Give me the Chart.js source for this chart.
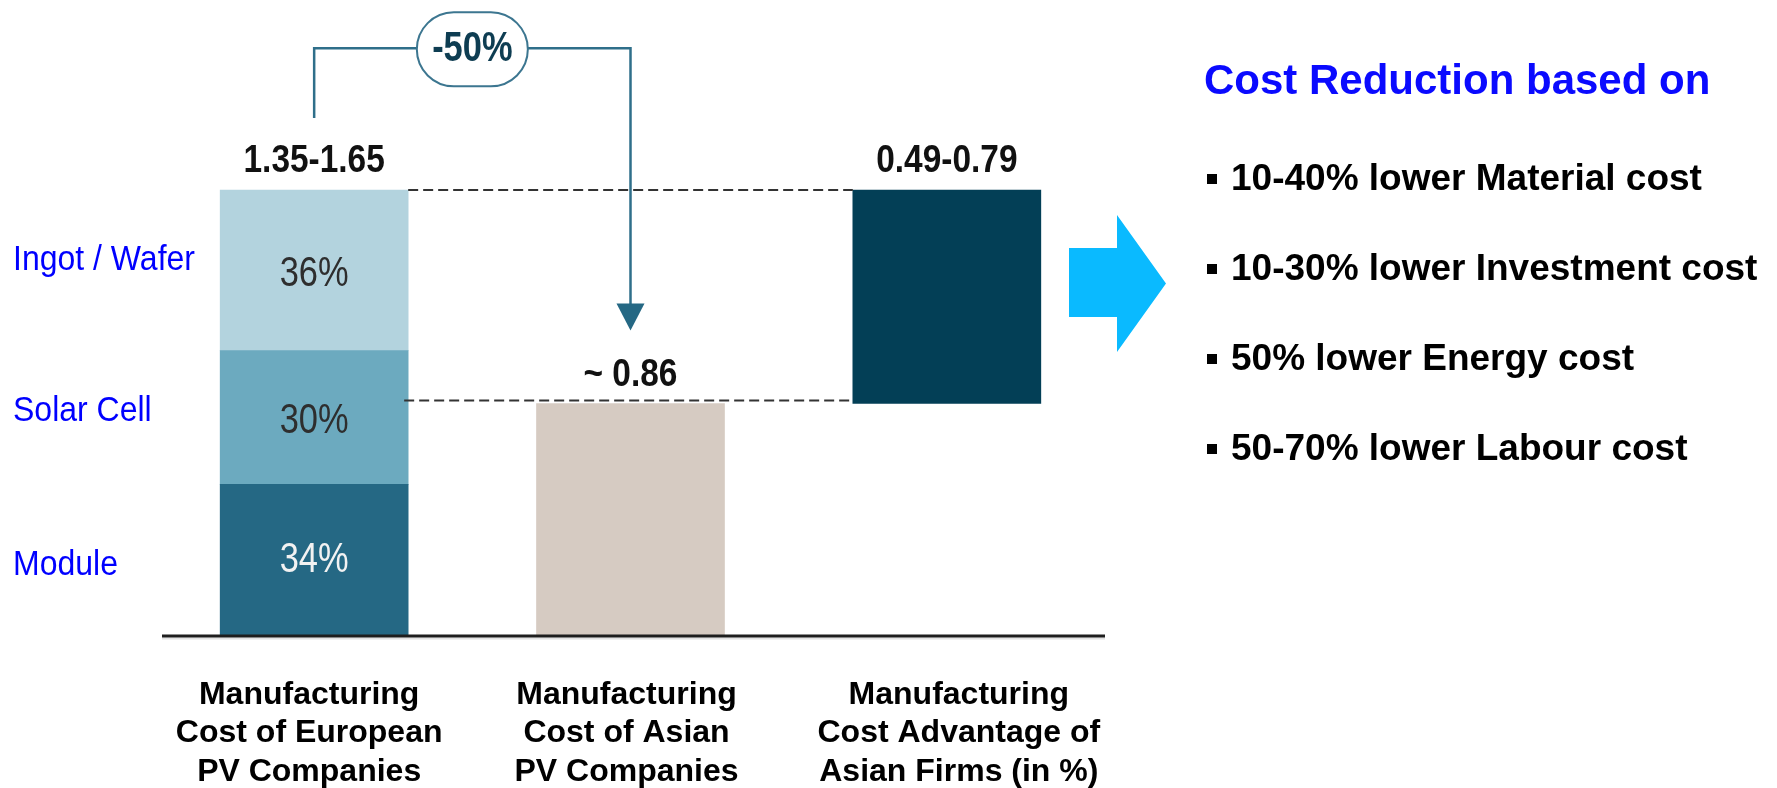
<!DOCTYPE html>
<html>
<head>
<meta charset="utf-8">
<script src="https://cdn.jsdelivr.net/npm/chart.js@4.4.1/dist/chart.umd.min.js"></script>
<style>
  html, body { margin: 0; padding: 0; background: #ffffff; }
  #wrap { position: relative; width: 1777px; height: 788px; }
  canvas { display: block; }
</style>
</head>
<body>
<div id="wrap"><canvas id="c" width="1777" height="788"></canvas></div>
<script>
// Categories (multi-line labels under each bar)
const categories = [
  ["Manufacturing", "Cost of European", "PV Companies"],
  ["Manufacturing", "Cost of Asian", "PV Companies"],
  ["Manufacturing", "Cost Advantage of", "Asian Firms (in %)"]
];

// European cost split by value-chain step (bottom to top)
const europeTotal = 1.65;
const europeSteps = ["Module", "Solar Cell", "Ingot / Wafer"];
const europeShares = [34, 30, 36];

// Asian manufacturing cost and the resulting advantage band
const asiaCost = 0.86;
const advantageRange = [asiaCost, europeTotal];

// Texts stated above the bars
const valueLabels = ["1.35-1.65", "~ 0.86", "0.49-0.79"];
const reductionLabel = "-50%";

// Drivers listed on the right
const driversTitle = "Cost Reduction based on";
const drivers = [
  "10-40% lower Material cost",
  "10-30% lower Investment cost",
  "50% lower Energy cost",
  "50-70% lower Labour cost"
];

const stepColors = ["#256884", "#6caabf", "#b3d3de"];
const stepTextColors = ["#f2f2f2", "#2e2e2e", "#2e2e2e"];
const asiaColor = "#d6cbc2";
const advantageColor = "#033f56";

const FONT = '"Liberation Sans", Arial, Helvetica, sans-serif';

const datasets = europeSteps.map((name, i) => ({
  label: name,
  data: [europeTotal * europeShares[i] / 100, null, null],
  backgroundColor: stepColors[i]
}));
datasets.push({ label: "Asia", data: [null, asiaCost, null], backgroundColor: asiaColor });
datasets.push({ label: "Advantage", data: [null, null, advantageRange], backgroundColor: advantageColor });

// text drawn with a horizontal / vertical stretch
function stretchText(ctx, text, x, y, font, color, sx, sy, align) {
  ctx.save();
  ctx.font = font;
  ctx.fillStyle = color;
  ctx.textAlign = align || "center";
  ctx.textBaseline = "middle";
  ctx.translate(x, y);
  ctx.scale(sx, sy || 1);
  ctx.fillText(text, 0, 0);
  ctx.restore();
}

const annotate = {
  id: "annotate",
  afterDatasetsDraw(chart) {
    const ctx = chart.ctx;
    const xs = chart.scales.x, ys = chart.scales.y;
    const area = chart.chartArea;
    const half = 94;
    const cx = [0, 1, 2].map(i => xs.getPixelForValue(i));
    const yTop1 = ys.getPixelForValue(europeTotal);
    const yTop2 = ys.getPixelForValue(asiaCost);
    const y0 = ys.getPixelForValue(0);

    // baseline
    ctx.save();
    ctx.strokeStyle = "#e2e2e2";
    ctx.lineWidth = 2;
    ctx.beginPath(); ctx.moveTo(162, y0 + 2.5); ctx.lineTo(area.right, y0 + 2.5); ctx.stroke();
    ctx.strokeStyle = "#1e1e1e";
    ctx.lineWidth = 3;
    ctx.beginPath(); ctx.moveTo(162, y0); ctx.lineTo(area.right, y0); ctx.stroke();

    // dashed guide lines to the advantage bar
    ctx.strokeStyle = "#333333";
    ctx.lineWidth = 2;
    ctx.setLineDash([10, 5]);
    ctx.beginPath(); ctx.moveTo(cx[0] + half, yTop1); ctx.lineTo(cx[2] - half, yTop1); ctx.stroke();
    ctx.beginPath(); ctx.moveTo(cx[0] + half - 4, yTop2 - 3); ctx.lineTo(cx[2] - half, yTop2 - 3); ctx.stroke();
    ctx.setLineDash([]);
    ctx.restore();

    // value labels above the bars
    const labelY = [yTop1, yTop2, yTop1];
    valueLabels.forEach((t, i) => {
      stretchText(ctx, t, cx[i], labelY[i] - 28, "bold 38px " + FONT, "#111111", 0.88);
    });

    // shares inside the European bar + step names on the left
    let acc = 0;
    europeShares.forEach((s, i) => {
      const v = europeTotal * s / 100;
      const mid = ys.getPixelForValue(acc + v / 2);
      acc += v;
      stretchText(ctx, s + "%", cx[0], mid + (i === 0 ? 0 : 4), "42px " + FONT, stepTextColors[i], 0.82);
      stretchText(ctx, europeSteps[i], 13, mid + (i === 0 ? 5 : (i === 1 ? -6 : -10)),
        "32px " + FONT, "#0000ff", 1, 1.08, "left");
    });

    // -50% bracket from European to Asian bar
    const bracketY = area.top + 34;
    const startY = yTop1 - 72;
    const tipY = yTop2 - 73;
    ctx.save();
    ctx.strokeStyle = "#2f6f8a";
    ctx.lineWidth = 2.5;
    ctx.beginPath();
    ctx.moveTo(cx[0], startY);
    ctx.lineTo(cx[0], bracketY);
    ctx.lineTo(cx[1], bracketY);
    ctx.lineTo(cx[1], tipY - 26);
    ctx.stroke();
    ctx.fillStyle = "#256884";
    ctx.beginPath();
    ctx.moveTo(cx[1] - 14, tipY - 27);
    ctx.lineTo(cx[1] + 14, tipY - 27);
    ctx.lineTo(cx[1], tipY);
    ctx.closePath();
    ctx.fill();

    // pill with the reduction
    const px = (cx[0] + cx[1]) / 2, pw = 111, ph = 74;
    ctx.beginPath();
    ctx.roundRect(px - pw / 2, bracketY - ph / 2 + 1, pw, ph, ph / 2);
    ctx.fillStyle = "#ffffff";
    ctx.fill();
    ctx.lineWidth = 2;
    ctx.strokeStyle = "#3c7690";
    ctx.stroke();
    ctx.restore();
    stretchText(ctx, reductionLabel, px, bracketY + 1, "bold 42px " + FONT, "#0e3d52", 0.82);

    // category labels
    const labelShift = [-5, -4, 12];
    ctx.save();
    ctx.font = "bold 32px " + FONT;
    ctx.fillStyle = "#000000";
    ctx.textAlign = "center";
    ctx.textBaseline = "middle";
    categories.forEach((lines, i) => {
      lines.forEach((l, j) => ctx.fillText(l, cx[i] + labelShift[i], y0 + 59 + j * 38.5));
    });
    ctx.restore();

    // block arrow pointing to the drivers
    ctx.save();
    ctx.fillStyle = "#0abaff";
    ctx.beginPath();
    ctx.moveTo(1069, 248);
    ctx.lineTo(1117, 248);
    ctx.lineTo(1117, 215);
    ctx.lineTo(1166, 283.5);
    ctx.lineTo(1117, 352);
    ctx.lineTo(1117, 317);
    ctx.lineTo(1069, 317);
    ctx.closePath();
    ctx.fill();

    // drivers list
    ctx.textAlign = "left";
    ctx.textBaseline = "middle";
    ctx.font = "bold 42px " + FONT;
    ctx.fillStyle = "#0a0aff";
    ctx.fillText(driversTitle, 1204, 82);
    ctx.font = "bold 37px " + FONT;
    drivers.forEach((d, i) => {
      const y = 179 + i * 90;
      ctx.fillStyle = "#000000";
      ctx.fillRect(1207, y - 5, 10, 10);
      ctx.fillText(d, 1231, y + 1);
    });
    ctx.restore();
  }
};

new Chart(document.getElementById("c"), {
  type: "bar",
  data: { labels: categories.map(c => c.join(" ")), datasets },
  options: {
    responsive: false,
    animation: false,
    layout: { padding: { left: 156, right: 672, top: 14.3, bottom: 152 } },
    datasets: { bar: { barThickness: 188, borderWidth: 0 } },
    plugins: { legend: { display: false }, tooltip: { enabled: false } },
    scales: {
      x: { stacked: true, display: false },
      y: { stacked: true, display: false, min: 0, max: 2.3 }
    }
  },
  plugins: [annotate]
});
</script>
</body>
</html>
